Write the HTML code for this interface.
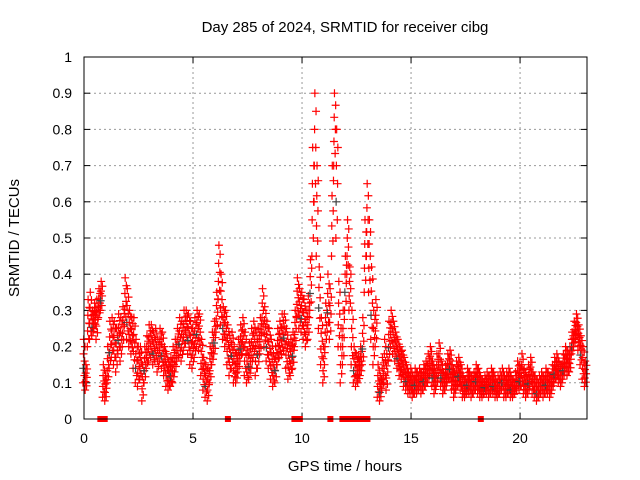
<!DOCTYPE html>
<html><head><meta charset="utf-8"><style>
body{margin:0;background:#fff}
svg{display:block;font-family:"Liberation Sans",sans-serif}
</style></head><body>
<svg id="chart" width="640" height="480" xmlns="http://www.w3.org/2000/svg">
<text x="345" y="32" font-size="15" text-anchor="middle">Day 285 of 2024, SRMTID for receiver cibg</text>
<text x="345" y="471" font-size="15" text-anchor="middle">GPS time / hours</text>
<text x="0" y="0" font-size="15" text-anchor="middle" transform="translate(19,238) rotate(-90)">SRMTID / TECUs</text>
<g id="grid"></g>
<g id="ticks"></g>
<g id="marks"></g>
<rect x="84" y="57" width="503" height="362" fill="none" stroke="#000" stroke-width="1"/>
</svg>
<script>
const xTicks=[0,5,10,15,20];
const yTicks=[0,0.1,0.2,0.3,0.4,0.5,0.6,0.7,0.8,0.9,1];
const yTickLabels=["0","0.1","0.2","0.3","0.4","0.5","0.6","0.7","0.8","0.9","1"];
const tStart=0, tStep=0.1;
const hiVals=[0.22,0.15,0.33,0.35,0.3,0.32,0.33,0.36,0.38,0.15,0.12,0.2,0.27,0.28,0.27,0.25,0.29,0.28,0.31,0.39,0.36,0.3,0.28,0.28,0.22,0.2,0.2,0.15,0.2,0.23,0.26,0.26,0.24,0.25,0.22,0.25,0.24,0.2,0.18,0.16,0.17,0.2,0.22,0.25,0.28,0.27,0.3,0.3,0.29,0.27,0.25,0.28,0.3,0.29,0.22,0.17,0.15,0.14,0.2,0.24,0.27,0.35,0.48,0.4,0.31,0.3,0.26,0.23,0.24,0.2,0.18,0.22,0.26,0.28,0.24,0.19,0.21,0.25,0.27,0.24,0.25,0.28,0.36,0.31,0.27,0.25,0.22,0.18,0.2,0.25,0.27,0.29,0.29,0.25,0.21,0.22,0.24,0.3,0.39,0.36,0.35,0.33,0.3,0.34,0.44,0.75,0.9,0.7,0.42,0.28,0.2,0.32,0.4,0.36,0.7,0.9,0.8,0.38,0.25,0.3,0.45,0.55,0.42,0.3,0.2,0.18,0.17,0.2,0.28,0.55,0.65,0.55,0.42,0.3,0.33,0.15,0.12,0.17,0.22,0.18,0.27,0.3,0.27,0.24,0.22,0.2,0.19,0.17,0.15,0.13,0.14,0.12,0.14,0.13,0.14,0.13,0.15,0.16,0.18,0.2,0.16,0.14,0.18,0.21,0.16,0.13,0.15,0.18,0.19,0.15,0.13,0.16,0.17,0.15,0.12,0.11,0.14,0.13,0.12,0.13,0.15,0.14,0.12,0.11,0.12,0.13,0.12,0.14,0.13,0.11,0.12,0.13,0.14,0.12,0.13,0.14,0.12,0.11,0.13,0.16,0.15,0.18,0.14,0.12,0.15,0.17,0.13,0.12,0.11,0.12,0.13,0.12,0.14,0.13,0.12,0.15,0.17,0.18,0.16,0.15,0.18,0.2,0.19,0.2,0.24,0.27,0.29,0.26,0.23,0.2,0.16];
const loVals=[0.1,0.08,0.2,0.22,0.23,0.25,0.22,0.28,0.3,0.06,0.05,0.1,0.14,0.17,0.15,0.13,0.18,0.16,0.2,0.26,0.22,0.2,0.18,0.14,0.1,0.09,0.11,0.05,0.1,0.14,0.16,0.17,0.15,0.16,0.13,0.16,0.14,0.12,0.09,0.08,0.09,0.1,0.13,0.16,0.17,0.16,0.19,0.21,0.18,0.15,0.14,0.17,0.2,0.19,0.12,0.08,0.06,0.05,0.1,0.15,0.18,0.24,0.33,0.26,0.22,0.2,0.15,0.12,0.14,0.1,0.1,0.13,0.16,0.18,0.12,0.1,0.11,0.14,0.17,0.12,0.14,0.18,0.24,0.2,0.16,0.14,0.11,0.09,0.1,0.15,0.17,0.18,0.19,0.14,0.11,0.12,0.14,0.2,0.28,0.25,0.24,0.22,0.2,0.22,0.3,0.45,0.6,0.45,0.25,0.15,0.1,0.2,0.24,0.22,0.45,0.7,0.5,0.2,0.1,0.15,0.3,0.4,0.3,0.15,0.1,0.09,0.1,0.12,0.15,0.35,0.45,0.35,0.22,0.15,0.2,0.06,0.05,0.08,0.1,0.08,0.16,0.2,0.18,0.16,0.14,0.12,0.11,0.09,0.08,0.07,0.07,0.06,0.07,0.07,0.08,0.07,0.08,0.09,0.1,0.12,0.09,0.07,0.09,0.12,0.09,0.07,0.08,0.1,0.11,0.08,0.06,0.08,0.09,0.08,0.06,0.06,0.07,0.07,0.06,0.07,0.08,0.07,0.06,0.06,0.07,0.07,0.06,0.07,0.07,0.06,0.06,0.07,0.08,0.06,0.06,0.07,0.06,0.06,0.07,0.08,0.08,0.09,0.07,0.06,0.07,0.09,0.07,0.06,0.05,0.06,0.07,0.06,0.07,0.07,0.06,0.08,0.1,0.11,0.1,0.09,0.11,0.13,0.12,0.13,0.18,0.2,0.22,0.19,0.15,0.11,0.09];
const zeroTimes=[0.75,0.8,0.95,6.6,9.65,9.75,9.9,11.3,11.85,11.95,12.05,12.3,12.45,12.55,12.65,12.8,13.0,18.2];

const NS="http://www.w3.org/2000/svg";
const X0=84,X1=587,Y0=419,Y1=57,TMAX=23.07;
const xs=t=>X0+(t/TMAX)*(X1-X0);
const ys=v=>Y0-v*(Y0-Y1);
const grid=document.getElementById('grid'),ticks=document.getElementById('ticks'),marks=document.getElementById('marks');
function mk(tag,attrs,parent){const e=document.createElementNS(NS,tag);for(const k in attrs)e.setAttribute(k,attrs[k]);parent.appendChild(e);return e;}
xTicks.forEach(t=>{
  const x=xs(t);
  if(t>0){const g=mk('line',{x1:x,x2:x,y1:Y1,y2:Y0,stroke:'#999','stroke-dasharray':'2,3'},grid);
  
  }
  mk('line',{x1:x,x2:x,y1:Y0,y2:Y0-6,stroke:'#000'},ticks);
  mk('line',{x1:x,x2:x,y1:Y1,y2:Y1+6,stroke:'#000'},ticks);
  const l=mk('text',{x:x,y:Y0+24,'font-size':14,'text-anchor':'middle'},ticks);l.textContent=t;
  
  
});
yTicks.forEach((v,i)=>{
  const y=ys(v);
  if(v>0&&v<1){const g=mk('line',{x1:X0,x2:X1,y1:y,y2:y,stroke:'#999','stroke-dasharray':'2,3'},grid);
  
  }
  mk('line',{x1:X0,x2:X0+6,y1:y,y2:y,stroke:'#000'},ticks);
  mk('line',{x1:X1,x2:X1-6,y1:y,y2:y,stroke:'#000'},ticks);
  const l=mk('text',{x:X0-12,y:y+5,'font-size':14,'text-anchor':'end'},ticks);l.textContent=yTickLabels[i];
  
  
});
function plus(t,v,col){
  const x=xs(t),y=ys(v);
  const p=mk('path',{d:`M${x-4},${y}H${x+4}M${x},${y-4}V${y+4}`,stroke:col,'stroke-width':1.2,fill:'none'},marks);
  
  
}
hiVals.forEach((h,i)=>{
  const t=tStart+i*tStep, l=loVals[i];
  const n=7;
  for(let k=0;k<n;k++){
    const f=k/(n-1);
    const v=l+(h-l)*f;
    const dt=(k%2?0.03:-0.03)+(k-3)*0.006;
    plus(t+dt,v,(k===2&&i%4===0)?'#444':'#f00');
  }
});
zeroTimes.forEach(t=>{
  const x=xs(t);
  const r=mk('rect',{x:x-3,y:Y0-3,width:6,height:6,fill:'#f00'},marks);
  
  
});
</script>
</body></html>
